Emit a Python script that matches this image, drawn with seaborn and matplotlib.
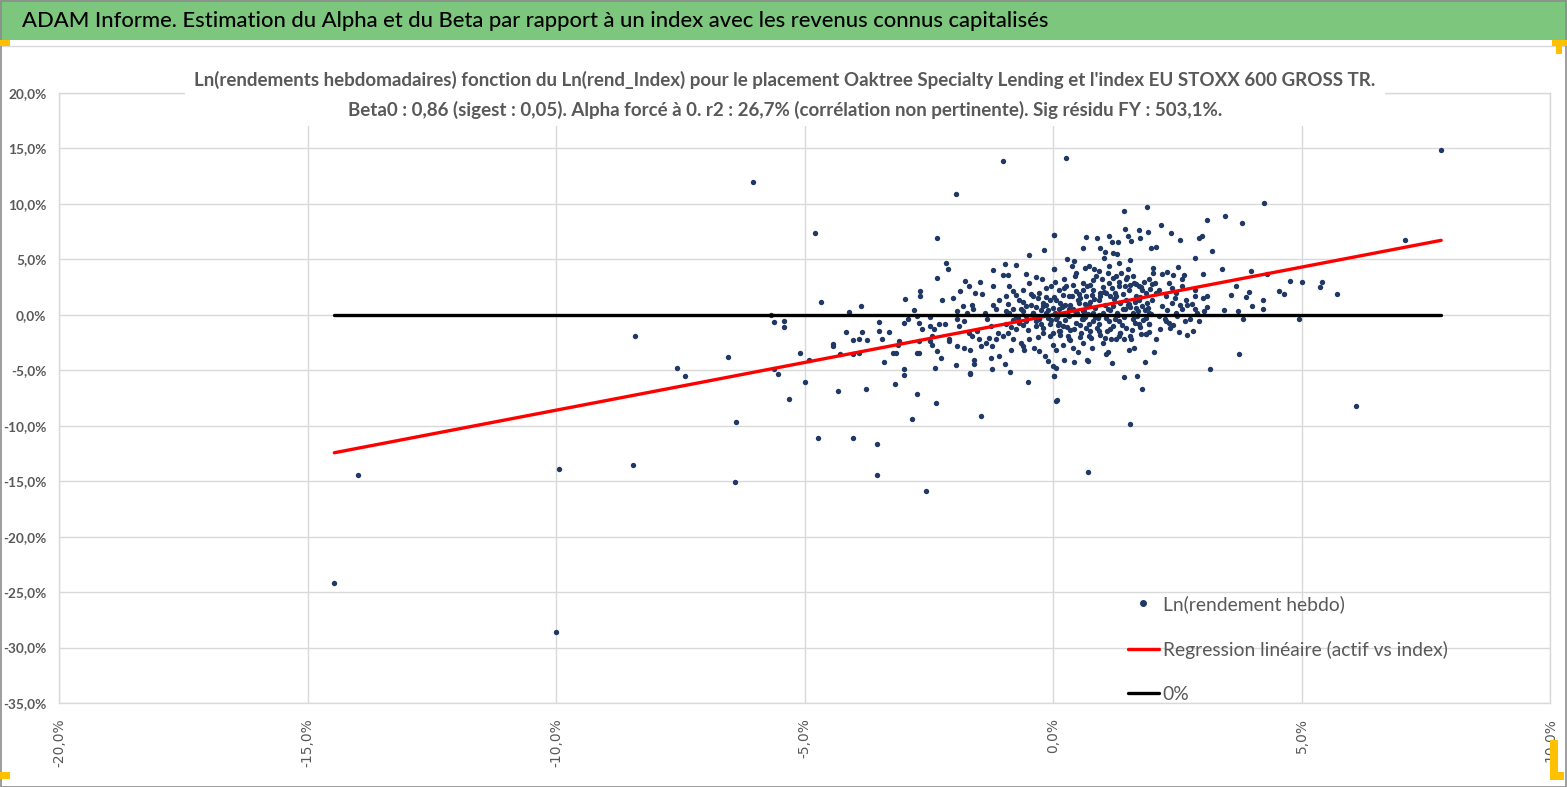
import matplotlib
matplotlib.use("Agg")
import matplotlib.pyplot as plt
from matplotlib.patches import Rectangle
from matplotlib.lines import Line2D
from matplotlib.ticker import FuncFormatter
import seaborn as sns
import pandas as pd

# weekly log returns in %: x = index, y = asset
left_x = [-14.46, -13.99, -9.94, -10.00, -8.42, -8.46, -7.57, -7.41, -6.54, -6.38,
          -6.40, -6.03, -5.67, -5.62, -5.42, -5.42, -5.62, -5.54, -5.32, -5.09]
left_y = [-24.20, -14.43, -13.86, -28.61, -1.89, -13.53, -4.81, -5.50, -3.76, -9.68,
          -15.03, 12.02, 0.00, -0.63, -0.60, -1.08, -4.93, -5.38, -7.57, -3.43]

neg_x = [-4.78, -1.01, -1.96, -2.34, -2.16, -2.12, -2.33, -2.24, -2.67, -2.67,
         -2.97, -4.66, -3.87, -4.11, -4.17, -3.85, -4.03, -3.91, -3.74, -4.43,
         -4.42, -3.50, -3.50, -3.44, -3.30, -4.91, -4.28, -4.03, -3.91, -3.40,
         -3.21, -3.15, -3.09, -3.11, -2.99, -2.91, -2.79, -2.73, -2.69, -2.64,
         -2.69, -2.74, -2.69, -2.99, -2.99, -3.18, -3.76, -4.33, -4.99, -2.73,
         -2.36, -2.83, -1.44, -4.72, -4.03, -3.54, -3.54, -2.55]
neg_y = [7.36, 13.89, 10.88, 6.91, 4.69, 4.15, 3.34, 1.32, 2.13, 1.68,
         1.44, 1.20, 0.75, 0.27, -1.56, -1.56, -2.25, -2.16, -2.25, -2.61,
         -2.77, -0.66, -1.47, -2.16, -1.56, -4.09, -3.55, -3.55, -3.43, -4.24,
         -3.43, -3.43, -2.40, -2.71, -0.75, -0.42, 0.42, -0.12, -0.75, -1.32,
         -2.40, -3.43, -3.43, -4.93, -5.41, -6.22, -6.67, -6.91, -6.10, -7.15,
         -7.97, -9.35, -9.11, -11.09, -11.09, -11.69, -14.46, -15.87]

near_x = [-2.48, -2.48, -2.39, -2.29, -2.18, -2.44, -2.48, -2.43, -2.34, -2.26,
          -2.38, -2.09, -2.09, -1.96, -1.94, -1.80, -1.67, -1.68, -1.66, -1.59,
          -1.59, -1.22, -0.97, -0.87, -0.50, -0.85, -1.24, -2.02, -1.87, -1.78,
          -1.69, -1.56, -1.47, -1.42, -1.20, -1.21, -0.97, -0.75, -1.01, -0.91,
          -0.49, -0.18, 0.02, -0.55, -0.35, -0.22, 0.02, -1.94, -1.94, -1.82,
          -1.73, -1.62, -1.60, -1.89, -1.79, -1.69, -1.62, -1.53, -1.49, -1.44,
          -1.35, -1.29, -1.22, -1.15, -1.08, -1.37, -1.33, -1.24, -1.15, -1.08,
          -0.95, -0.88, -0.81, -0.68, -0.61, -0.48, -0.41, -0.28, -0.14, -0.07,
          -1.01, -0.91, -0.81, -0.75, -0.61, -0.58, -0.48, -0.38, -0.28, -0.17,
          -0.11, -0.01, 0.07, 0.02, -0.01, -0.88, -0.75, -0.61, -0.54, -0.41,
          -0.28, -0.14, -0.07, -0.68, -0.34, -0.21, -0.07, -0.54, -0.21, -0.90,
          -0.80, -0.70, -0.60, -0.50, -0.45, -0.35, -0.30, -0.25, -0.20, -0.15,
          -0.10, -0.05, 0.00, 0.00, -0.95, -1.10, -1.20, -0.65, -0.30]
near_y = [-0.18, -1.02, -1.32, -0.87, -0.87, -1.92, -2.40, -2.68, -3.28, -3.88,
          -4.84, -2.16, -2.40, -4.48, -2.83, -2.98, -3.13, -5.23, -5.38, -4.03,
          -4.39, -4.93, -4.39, -5.17, -6.10, -3.19, -3.88, 1.56, 2.13, 3.04,
          2.58, 2.01, 2.95, 1.92, 4.00, 2.58, 4.57, 4.48, 3.55, 3.55,
          5.38, 5.86, 7.24, 3.67, 3.43, 3.19, 4.15, 0.33, -0.42, 0.78,
          0.18, 0.87, 0.48, -1.02, -0.57, -1.62, -1.92, -1.47, -2.22, -2.83,
          -2.52, -2.07, -2.83, -2.22, -3.73, 0.18, -0.42, -1.02, 0.48, 1.38,
          1.68, 2.58, 2.13, 1.38, 2.28, 2.89, 1.68, 1.98, 2.43, 1.38,
          -1.92, -1.62, -2.22, -1.32, -2.83, -3.13, -2.22, -2.98, -3.28, -3.73,
          -4.18, -4.63, -7.78, -5.53, -2.68, 0.18, -0.12, 0.33, -0.57, 0.18,
          -0.42, 0.18, -0.87, -0.72, -1.02, -1.62, -1.92, 0.78, 0.78, 1.00,
          0.50, -0.30, 1.20, -1.40, 0.90, -0.60, 1.50, 0.40, -1.20, 0.90,
          -0.30, 2.60, 0.60, -1.60, -0.80, -1.60, 0.90, -2.50, -2.00]

pos_x = [0.27, 7.81, 4.25, 1.42, 1.89, 3.10, 3.47, 3.81, 7.08, 0.03,
         0.67, 0.88, 1.13, 1.18, 1.31, 1.44, 1.51, 1.56, 1.74, 1.76,
         1.91, 2.17, 2.37, 2.55, 2.93, 3.00, 3.20, 1.98, 2.07, 0.61,
         0.95, 1.05, 1.20, 1.29, 0.29, 0.43, 0.03, 0.39, 0.65, 0.83,
         1.03, 1.13, 1.33, 1.55, 1.51, 1.37, 2.01, 2.01, 2.29, 2.51,
         2.85, 3.02, 3.40, 2.63, 2.42, 3.99, 4.31, 4.77, 5.02, 5.42,
         5.37, 5.71, 4.55, 4.65, 3.69, 3.58, 3.94, 3.89, 4.23, 4.01,
         4.23, 3.73, 3.45, 3.02, 3.10, 3.04, 2.85, 2.79, 2.85, 2.76,
         2.94, 3.83, 4.94, 2.81, 2.69, 2.53, 2.41, 2.33, 2.07, 2.03,
         1.85, 1.69, 1.79, 1.42, 1.54, 0.71, 3.16, 3.75, 6.09, 0.09,
         0.03, 0.07, 0.23, 0.43, 0.69, 0.71, 1.18, 1.07, 1.10, 0.79,
         0.60, 0.50, 0.40, 0.20, 0.07, 1.53, 1.63, 1.57, 1.43, 1.33,
         1.17, 1.77, 1.87, 1.93, 0.93, 0.77, 0.57, 0.30, 0.13]
pos_y = [14.13, 14.82, 10.07, 9.38, 9.71, 8.57, 8.87, 8.30, 6.79, 7.24,
         7.03, 6.91, 7.15, 6.58, 6.58, 7.72, 7.15, 6.70, 7.63, 6.91,
         7.51, 8.06, 7.36, 6.79, 6.91, 7.15, 5.77, 6.01, 6.10, 5.98,
         6.01, 5.68, 5.59, 5.50, 4.99, 4.87, 4.12, 4.36, 4.24, 4.15,
         5.14, 4.39, 4.69, 4.96, 4.15, 3.79, 4.24, 3.79, 3.88, 4.27,
         5.08, 3.64, 4.15, 3.55, 3.55, 3.91, 3.67, 3.07, 2.95, 2.95,
         2.49, 1.92, 2.13, 1.92, 2.58, 1.80, 2.04, 1.59, 1.32, 0.75,
         0.51, 0.30, 0.39, 1.56, 1.71, 0.30, 1.68, 0.96, 0.51, -0.42,
         -0.57, -0.42, -0.42, -1.47, -1.80, -1.56, -0.96, -0.72, -2.16, -3.31,
         -4.24, -5.53, -6.67, -5.62, -9.83, -14.13, -4.93, -3.55, -8.21, -7.72,
         -5.53, -4.78, -4.03, -4.24, -4.03, -4.18, -4.36, -3.52, -3.31, -2.98,
         -2.58, -3.31, -2.98, -2.68, -3.13, -3.19, -2.98, -2.16, -2.16, -1.92,
         -2.16, -1.77, -1.77, -1.56, -1.47, -2.07, -1.62, -1.92, -1.47]

core_x = [0.13, 0.27, 0.33, 0.47, 0.53, 0.60, 0.67, 0.73, 0.80, 0.87,
          0.93, 1.00, 1.07, 1.13, 1.20, 1.27, 1.33, 1.40, 1.47, 1.53,
          1.60, 1.67, 1.73, 1.80, 1.87, 1.93, 2.00, 2.13, 2.20, 2.27,
          2.33, 2.40, 2.47, 2.60, 2.67, 0.07, 0.20, 0.33, 0.47, 0.60,
          0.67, 0.80, 0.93, 1.07, 1.20, 1.33, 1.47, 1.60, 1.73, 1.87,
          1.93, 2.13, 2.27, 2.47, 2.60, 0.20, 0.40, 0.60, 0.80, 0.07,
          0.13, 0.23, 0.47, 0.73, 0.93, 1.10, 1.27, 1.47, 1.67, 1.93,
          2.07, 0.33, 0.73, 1.00, 1.27, 0.05, 0.15, 0.25, 0.35, 0.45,
          0.55, 0.65, 0.75, 0.85, 0.95, 1.05, 1.15, 1.25, 1.35, 1.45,
          1.55, 1.65, 1.75, 1.85, 1.95, 0.10, 0.30, 0.50, 0.70, 0.90,
          1.10, 1.30, 1.50, 1.70, 1.90, 0.20, 0.40, 0.60, 0.80, 1.00,
          1.20, 1.40, 1.60, 1.80, 2.00, 0.15, 0.35, 0.55, 0.75, 0.95,
          1.15, 1.35, 1.55, 1.75, 2.15, -0.40, -0.60, -0.20, -0.80, -0.10,
          2.30, 2.50, 2.70, 2.90, 3.10]
core_y = [2.28, 2.58, 1.68, 2.13, 1.08, 2.89, 1.68, 0.78, 2.28, 3.49,
          1.38, 0.18, 1.98, 2.89, 0.78, 1.68, 2.58, 0.48, 1.38, 2.28,
          0.18, 1.68, 2.58, 0.78, 1.98, 0.18, 1.38, 2.28, 0.78, 1.68,
          2.89, 1.08, 1.98, 2.58, 1.38, -0.42, -1.02, -0.12, -0.72, -0.42,
          -1.17, -0.57, -0.87, -0.27, -1.02, -0.57, -1.17, -0.42, -0.87, -0.27,
          -0.87, -0.12, -0.57, 0.18, 0.48, 0.78, 0.48, 0.33, 0.18, 1.38,
          0.48, 3.19, 3.79, 4.39, 3.94, 3.79, 3.49, 3.19, 2.74, 3.19,
          1.98, -2.22, -1.92, -2.52, -2.22, 0.20, 1.10, -0.50, 0.90, 0.30,
          1.50, -0.20, 1.20, 0.60, 2.00, 0.90, 1.70, -0.40, 1.10, 2.60,
          0.70, 1.20, 1.60, 0.40, 2.30, -0.90, 0.00, 1.30, 0.10, -0.30,
          0.50, 0.00, 0.90, -0.10, 1.10, 1.80, 2.70, 2.20, 3.10, 2.50,
          3.30, 1.90, 3.50, 2.20, 2.80, -1.80, -1.40, -2.00, -1.50, -1.80,
          -1.30, -1.60, -1.90, -1.10, -1.30, 0.20, -0.90, 1.10, -0.50, 0.40,
          0.40, -0.10, 0.90, 0.20, 0.70]

# more of the dense centre of the cloud
core2_x = [0.02, 0.12, 0.22, 0.32, 0.42, 0.52, 0.62, 0.72, 0.82, 0.92,
           1.02, 1.12, 1.22, 1.32, 1.42, 1.52, 1.62, 1.72, 1.82, 1.92,
           0.08, 0.18, 0.28, 0.38, 0.48, 0.58, 0.68, 0.78, 0.88, 0.98,
           1.08, 1.18, 1.28, 1.38, 1.48, 1.58, 1.68, 1.78, 1.88, 1.98,
           -0.95, -0.85, -0.75, -0.65, -0.55, -0.45, -0.35, -0.25, -0.15, -0.05,
           0.04, 0.14, 0.24, 0.34, 0.44, 0.54, 0.64, 0.74, 0.84, 0.94,
           1.04, 1.14, 1.24, 1.34, 1.44, 1.54, 1.64, 1.74, 1.84, 1.94,
           2.05, 2.25, 2.45, 2.65, 2.85, 2.20, 2.40, 2.60, 2.35, 2.55]
core2_y = [1.60, -0.70, 2.40, 0.50, -1.30, 1.90, 0.30, -0.80, 1.40, 0.00,
           2.10, -0.60, 1.40, 3.00, -0.20, 1.00, 2.90, 0.30, -0.50, 0.60,
           -0.20, 0.70, -1.10, 1.70, 0.20, -0.40, 2.60, 1.80, -1.20, 3.20,
           -1.50, 2.40, 0.20, -0.90, 3.40, -1.40, 0.60, 2.50, -1.70, 0.10,
           0.30, -1.10, 1.80, 0.50, -0.10, 1.90, 0.70, -0.80, 1.60, -0.50,
           3.00, -1.50, 0.90, -2.30, 3.50, -0.90, 1.00, 2.70, -0.20, 1.70,
           -2.10, 0.40, 2.00, -1.60, 0.50, 2.70, -0.70, 1.30, 3.00, -0.80,
           2.90, -0.40, 1.50, -0.60, 2.20, 3.70, 2.40, 3.20, -1.20, 0.90]

BETA0 = 0.86
x_ticks = [-20, -15, -10, -5, 0, 5, 10]
y_ticks = [-35, -30, -25, -20, -15, -10, -5, 0, 5, 10, 15, 20]

TITLE = "ADAM Informe. Estimation du Alpha et du Beta par rapport à un index avec les revenus connus capitalisés"
SUBTITLE_1 = ("Ln(rendements hebdomadaires) fonction du Ln(rend_Index) pour le placement "
              "Oaktree Specialty Lending et l'index EU STOXX 600 GROSS TR.")
SUBTITLE_2 = ("Beta0 : 0,86 (sigest : 0,05). Alpha forcé à 0. r2 : 26,7% "
              "(corrélation non pertinente). Sig résidu FY : 503,1%.")
legend_labels = ["Ln(rendement hebdo)", "Regression linéaire (actif vs index)", "0%"]

DOT = "#203864"
GREY_TXT = "#595959"
GRID = "#D9D9D9"
FONT = ["Lato", "DejaVu Sans"]

sns.set_theme(style="white")
plt.rcParams["font.family"] = FONT

df = pd.DataFrame({
    "index": left_x + neg_x + near_x + pos_x + core_x + core2_x,
    "actif": left_y + neg_y + near_y + pos_y + core_y + core2_y,
})

W, H = 1567, 787
fig = plt.figure(figsize=(W / 100, H / 100), dpi=100)
fig.patch.set_facecolor("white")
ax = fig.add_axes([59 / W, 1 - 703 / H, (1550 - 59) / W, (703 - 93) / H])

sns.scatterplot(data=df, x="index", y="actif", ax=ax, s=15, color=DOT,
                linewidth=0, zorder=3, legend=False)

# regression forced through 0, drawn over the data range, plus the 0% line
xmin, xmax = df["index"].min(), df["index"].max()
reg = pd.DataFrame({"x": [xmin, xmax], "y": [BETA0 * xmin, BETA0 * xmax]})
sns.lineplot(data=reg, x="x", y="y", ax=ax, color="#FF0000", lw=2.4, zorder=4)
ax.plot([xmin, xmax], [0, 0], color="black", lw=2.4, zorder=5)

ax.set_xlim(-20, 10)
ax.set_ylim(-35, 20)
ax.set_xticks(x_ticks)
ax.set_yticks(y_ticks)
pct = FuncFormatter(lambda v, p: f"{v:.1f}%".replace(".", ","))
ax.xaxis.set_major_formatter(pct)
ax.yaxis.set_major_formatter(pct)
ax.set(xlabel="", ylabel="")
ax.grid(True, color=GRID, lw=1)
for s in ax.spines.values():
    s.set_color(GRID)
    s.set_linewidth(1)

ax.tick_params(axis="x", length=0, pad=11, labelrotation=90, labelsize=10, labelcolor=GREY_TXT)
ax.tick_params(axis="y", length=0, pad=9, labelsize=9.8, labelcolor=GREY_TXT)
for lbl in ax.get_xticklabels():
    lbl.set_fontfamily("DejaVu Sans")
for lbl in ax.get_yticklabels():
    lbl.set_fontweight("bold")

handles = [
    Line2D([], [], marker="o", ls="", color=DOT, ms=4),
    Line2D([], [], color="#FF0000", lw=2.4),
    Line2D([], [], color="black", lw=2.4),
]
ax.legend(handles, legend_labels, loc="lower left", bbox_to_anchor=(0.717, 0.0),
          frameon=False, fontsize=13.9, labelcolor=GREY_TXT, handlelength=1.6,
          handletextpad=0.2, labelspacing=1.42, borderpad=0, borderaxespad=0)

# title band, chart frame and corner handles
fig.patches.append(Rectangle((0, 1 - 40 / H), 1, 40 / H, transform=fig.transFigure,
                             facecolor="#7DC67D", edgecolor="none", zorder=1))
fig.patches.append(Rectangle((0, 1 - 46 / H), 1, 0, transform=fig.transFigure,
                             edgecolor=GRID, lw=1, zorder=1))
fig.patches.append(Rectangle((0.5 / W, 0.5 / H), 1 - 2 / W, 1 - 1.5 / H, transform=fig.transFigure,
                             facecolor="none", edgecolor="#8C8C8C", lw=1.2, zorder=1))
for x0, y0, w, h in [(0, 40, 10, 6), (1552, 40, 15, 6), (1556, 46, 6, 8),
                     (0, 772, 10, 7), (1550, 740, 8, 40), (1550, 772, 14, 8)]:
    fig.patches.append(Rectangle((x0 / W, 1 - (y0 + h) / H), w / W, h / H,
                                 transform=fig.transFigure, facecolor="#FFC000",
                                 edgecolor="none", zorder=2))
fig.text(22 / W, 1 - 21 / H, TITLE, ha="left", va="center", fontsize=15.8,
         fontweight="medium", color="black")

# chart title sits on a white box over the top of the plot
fig.patches.append(Rectangle((185 / W, 1 - 126 / H), 1200 / W, 64 / H, transform=fig.transFigure,
                             facecolor="white", edgecolor="none", zorder=2))
fig.text(785 / W, 1 - 80 / H, SUBTITLE_1, ha="center", va="center", fontsize=13.5,
         fontweight="bold", color=GREY_TXT, zorder=3)
fig.text(785 / W, 1 - 110 / H, SUBTITLE_2, ha="center", va="center", fontsize=13.5,
         fontweight="bold", color=GREY_TXT, zorder=3)

fig.savefig("out.png", dpi=100)
